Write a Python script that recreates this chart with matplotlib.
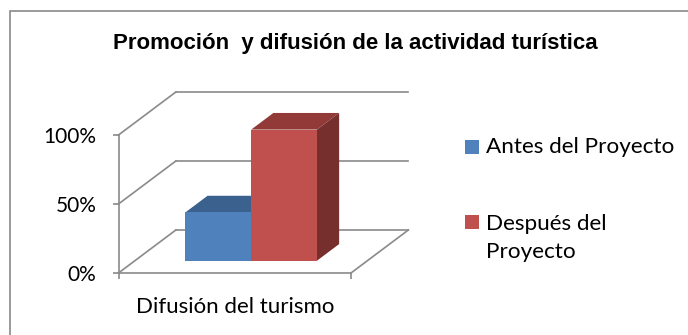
import matplotlib.pyplot as plt
from matplotlib.patches import Polygon, Rectangle

titulo = "Promoción  y difusión de la actividad turística"
categoria = "Difusión del turismo"
series = ["Antes del Proyecto", "Después del\nProyecto"]
valores = [35, 95]
ticks = [0, 50, 100]
tick_labels = ["0%", "50%", "100%"]

color_frente = ["#4F81BD", "#C0504D"]
color_techo = ["#3B618F", "#923A38"]
color_lado = ["#385D8A", "#772F2D"]
gris = "#8A8A8A"

# oblique projection: depth of the floor in data units
DX, DY = 0.247, 31.2
Z0, Z1 = 0.286, 0.672   # front / back of the bars (fraction of depth)
ANCHO = 0.283

W, H = 688, 335  # figure size in pixels


def proy(x, y, z):
    return (x + z * DX, y + z * DY)


def fx(px):
    return px / W


def fy(py):
    return 1 - py / H


plt.rcParams['font.family'] = ['Lato', 'DejaVu Sans']

fig = plt.figure(figsize=(W / 100, H / 100), dpi=100)
ax = fig.add_axes([fx(118.5), fy(273), 232.5 / W, 138 / H])
ax.set_xlim(0, 1)
ax.set_ylim(0, 100)

# walls: back gridlines, side diagonals, floor edge
for t in ticks:
    ax.plot(*zip(proy(0, t, 1), proy(1, t, 1)), color=gris, lw=1.2, zorder=1, clip_on=False)
    ax.plot(*zip(proy(0, t, 0), proy(0, t, 1)), color=gris, lw=1.2, zorder=1, clip_on=False)
ax.plot(*zip(proy(1, 0, 0), proy(1, 0, 1)), color=gris, lw=1.2, zorder=1, clip_on=False)

# 3d bars
x0 = 0.5 - ANCHO
for i, v in enumerate(valores):
    xa = x0 + i * ANCHO
    xb = xa + ANCHO
    techo = [proy(xa, v, Z0), proy(xb, v, Z0), proy(xb, v, Z1), proy(xa, v, Z1)]
    lado = [proy(xb, 0, Z0), proy(xb, v, Z0), proy(xb, v, Z1), proy(xb, 0, Z1)]
    ax.add_patch(Polygon(techo, closed=True, facecolor=color_techo[i], edgecolor='none',
                         zorder=2 + i, clip_on=False))
    ax.add_patch(Polygon(lado, closed=True, facecolor=color_lado[i], edgecolor='none',
                         zorder=2 + i, clip_on=False))
    ax.bar(xa + Z0 * DX, v, width=ANCHO, bottom=Z0 * DY, align='edge',
           color=color_frente[i], zorder=2.5 + i, clip_on=False)

for s in ['top', 'right']:
    ax.spines[s].set_visible(False)
for s in ['left', 'bottom']:
    ax.spines[s].set_color(gris)
    ax.spines[s].set_linewidth(1.2)

ax.set_yticks(ticks, tick_labels)
ax.set_xticks([0, 1], ['', ''])
ax.set_xticks([0.5], [categoria], minor=True)
ax.tick_params(axis='y', length=4, width=1.2, color=gris, pad=12, labelsize=15)
ax.tick_params(axis='x', which='major', length=4, width=1.2, color=gris)
ax.tick_params(axis='x', which='minor', length=0, pad=17, labelsize=16)

fig.text(fx(355), fy(43), titulo, ha='center', va='center',
         family='Liberation Sans', fontweight='bold', fontsize=16)

# legend: square marker + label, first line aligned with the marker
leyenda_y = [(146.5, 147), (222, 238)]
for i, nombre in enumerate(series):
    ym, yt = leyenda_y[i]
    fig.add_artist(Rectangle((fx(465), fy(ym + 7)), 14 / W, 14 / H, transform=fig.transFigure,
                             facecolor=color_frente[i], edgecolor='none'))
    fig.text(fx(485.5), fy(yt), nombre, ha='left', va='center', fontsize=16.2, linespacing=1.45)

# chart frame
fig.add_artist(Rectangle((fx(9.6), -0.2), 1.2, 0.2 + fy(10.7), transform=fig.transFigure,
                         fill=False, edgecolor=gris, lw=1.2))

fig.savefig('out.png', dpi=100)
